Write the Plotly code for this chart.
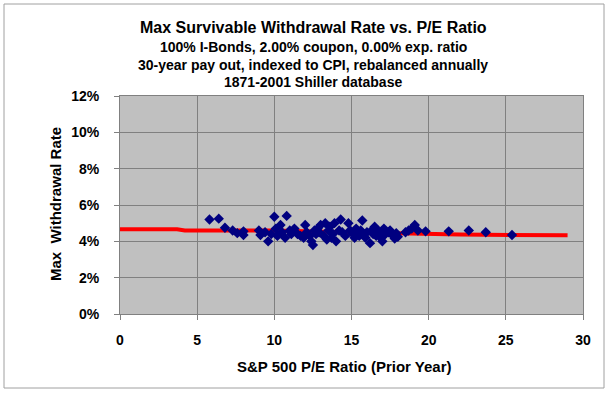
import plotly.graph_objects as go

# Scatter data: S&P 500 P/E ratio (prior year) vs max survivable withdrawal rate (%)
pe_ratio = [5.8, 6.4, 6.8, 7.3, 7.6, 8.0, 8.0,
            9.0, 9.1, 9.4, 9.6, 9.8, 10.0, 10.1, 10.2, 10.4, 10.5, 10.7, 10.8, 11.0, 11.1, 11.3, 11.5, 11.7, 11.9, 12.0, 12.1,
            12.3, 12.4, 12.5, 12.6, 12.7, 12.8, 12.9, 13.0, 13.2, 13.3, 13.4, 13.5, 13.6, 13.7, 13.8, 13.9, 14.0, 14.2, 14.3, 14.4, 14.6, 14.8, 14.9,
            15.1, 15.2, 15.3, 15.4, 15.5, 15.6, 15.7, 15.8, 15.9, 16.0, 16.2, 16.3, 16.4,
            16.5, 16.6, 16.7, 16.8, 16.9, 17.0, 17.1, 17.2, 17.4, 17.5, 17.7, 17.8, 17.9, 18.0,
            18.5, 18.7, 18.9, 19.1, 19.3, 19.8,
            21.3, 22.6, 23.7, 25.4]
withdrawal_rate = [5.2, 5.25, 4.75, 4.6, 4.45, 4.55, 4.35,
                   4.6, 4.35, 4.5, 4.0, 4.4, 5.35, 4.7, 4.3, 4.9, 4.5, 4.2, 5.4, 4.6, 4.4, 4.7, 4.4, 4.3, 4.2, 4.9, 4.5,
                   4.3, 4.0, 3.8, 4.6, 4.4, 4.7, 4.5, 4.9, 4.3, 5.0, 4.1, 4.6, 4.8, 4.2, 4.4, 5.0, 4.0, 4.6, 5.2, 4.5, 4.3, 5.0, 4.6,
                   4.4, 4.2, 4.7, 4.5, 4.3, 4.6, 5.15, 4.4, 4.2, 4.5, 3.9, 4.6, 4.4,
                   4.8, 4.3, 4.6, 4.5, 4.2, 4.0, 4.7, 4.4, 4.5, 4.6, 4.3, 4.15, 4.45, 4.25,
                   4.5, 4.6, 4.7, 4.9, 4.6, 4.55,
                   4.55, 4.6, 4.5, 4.35]

# Trend line
trend_x = [0, 3.7, 4.2, 10, 14, 18, 21, 22, 29]
trend_y = [4.67, 4.67, 4.6, 4.6, 4.52, 4.45, 4.42, 4.37, 4.33]

x_ticks = [0, 5, 10, 15, 20, 25, 30]
y_ticks = [0, 2, 4, 6, 8, 10, 12]
y_tick_labels = ["0%", "2%", "4%", "6%", "8%", "10%", "12%"]

title_lines = ["Max Survivable Withdrawal Rate vs. P/E Ratio",
               "100% I-Bonds, 2.00% coupon, 0.00% exp. ratio",
               "30-year pay out, indexed to CPI, rebalanced annually",
               "1871-2001 Shiller database"]

font_family = "Liberation Sans, Arial, sans-serif"

fig = go.Figure()
fig.add_trace(go.Scatter(x=trend_x, y=trend_y, mode="lines",
                         line=dict(color="#ff0000", width=4), hoverinfo="skip"))
fig.add_trace(go.Scatter(x=pe_ratio, y=withdrawal_rate, mode="markers",
                         marker=dict(symbol="diamond", size=8, color="#000080")))

L, R, T, B = 120, 27, 96, 79
W, H = 610, 393
pw, ph = W - L - R, H - T - B

def px_x(px):
    return (px - L) / pw

def px_y(py):
    return (H - B - py) / ph

annotations = []
title_y = [27, 47, 65, 82]
title_sizes = [16, 14, 14, 14]
for txt, py, sz in zip(title_lines, title_y, title_sizes):
    annotations.append(dict(text="<b>%s</b>" % txt, x=px_x(313), y=px_y(py),
                            xref="paper", yref="paper", showarrow=False,
                            xanchor="center", yanchor="middle",
                            font=dict(size=sz, family=font_family, color="black")))
annotations.append(dict(text="<b>S&P 500 P/E Ratio (Prior Year)</b>", x=px_x(344), y=px_y(366),
                        xref="paper", yref="paper", showarrow=False,
                        xanchor="center", yanchor="middle",
                        font=dict(size=15, family=font_family, color="black")))
annotations.append(dict(text="<b>Max  Withdrawal Rate</b>", x=px_x(55), y=px_y(204),
                        xref="paper", yref="paper", showarrow=False, textangle=-90,
                        xanchor="center", yanchor="middle",
                        font=dict(size=15, family=font_family, color="black")))

fig.update_layout(
    width=W, height=H,
    margin=dict(l=L, r=R, t=T, b=B),
    paper_bgcolor="white",
    plot_bgcolor="#c0c0c0",
    showlegend=False,
    annotations=annotations,
    shapes=[dict(type="rect", xref="paper", yref="paper",
                 x0=px_x(4), x1=px_x(604), y0=px_y(4), y1=px_y(388),
                 line=dict(color="#a0a0a0", width=1), layer="below")],
    xaxis=dict(range=[0, 30], tickvals=x_ticks, showgrid=True, gridcolor="#808080",
               gridwidth=1, zeroline=False, showline=True, linecolor="#808080",
               mirror=True, ticks="outside", ticklen=5, tickcolor="#808080",
               ticklabelstandoff=8,
               tickfont=dict(size=14, family=font_family, color="black", weight="bold")),
    yaxis=dict(range=[0, 12], tickvals=y_ticks, ticktext=y_tick_labels, showgrid=True,
               gridcolor="#808080", gridwidth=1, zeroline=False, showline=True,
               linecolor="#808080", mirror=True, ticks="outside", ticklen=5,
               tickcolor="#808080", ticklabelstandoff=12,
               tickfont=dict(size=14, family=font_family, color="black", weight="bold")),
)

fig.write_html("out.html", config={"displayModeBar": False},
               post_script="document.body.style.margin='0px';")
